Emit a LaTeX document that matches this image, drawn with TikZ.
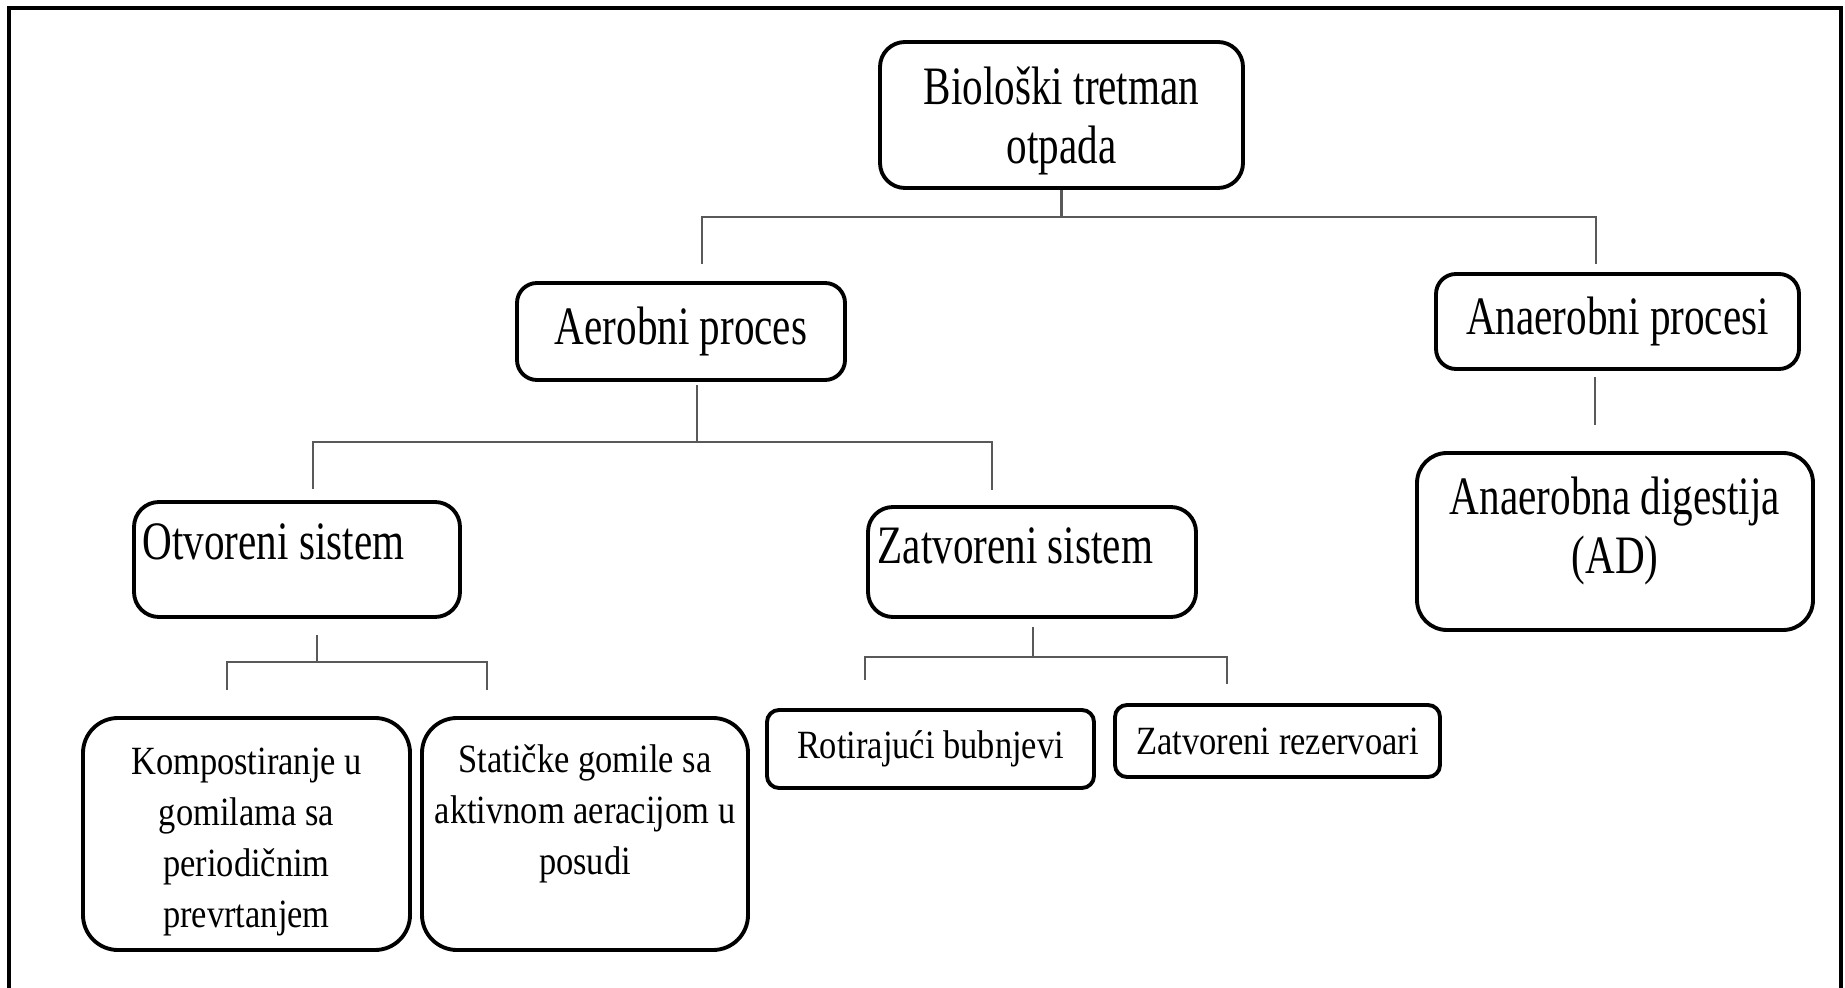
\documentclass[tikz,border=0pt]{standalone}
\usepackage{fontspec}
\setmainfont{Liberation Serif}
\newfontfamily\headfont{Liberation Serif}[FakeStretch=0.76]
\newfontfamily\leaffont{Liberation Serif}[FakeStretch=0.86]
\usetikzlibrary{positioning,calc}

\begin{document}
\begin{tikzpicture}[
    box/.style={draw=black, line width=1.1pt, rounded corners=0.25cm, fill=white, inner sep=0pt, align=center},
    headtxt/.style={font=\headfont\fontsize{15.4}{16.8}\selectfont},
    leaftxt/.style={font=\leaffont\fontsize{11.4}{14.5}\selectfont},
    link/.style={draw=black!65, line width=0.6pt}
]
    \useasboundingbox (0,0) rectangle (18.45,-9.88);

    % Outer frame
    \draw[line width=1.1pt] (0.09,-9.88) -- (0.09,-0.08) -- (18.41,-0.08) -- (18.41,-9.88);

    % Top level
    \node[box, minimum width=3.63cm, minimum height=1.46cm] (root) at (10.615,-1.15) {};
    \node[headtxt, align=center, inner sep=0pt] (roottxt) at (10.615,-1.21) {Biološki tretman\\otpada};

    % Second level
    \node[box, headtxt, minimum width=3.28cm, minimum height=0.97cm, rounded corners=0.2cm] (aer) at (6.81,-3.315) {Aerobni proces};
    \node[box, headtxt, minimum width=3.63cm, minimum height=0.95cm, rounded corners=0.2cm] (anaer) at (16.175,-3.215) {Anaerobni procesi};
    \node[box, minimum width=3.96cm, minimum height=1.77cm, rounded corners=0.3cm] (ad) at (16.15,-5.415) {};
    \node[headtxt, align=center, inner sep=0pt] (adtxt) at (16.15,-5.31) {Anaerobna digestija\\(AD)};

    % Aerobic systems
    \node[box, minimum width=3.26cm, minimum height=1.15cm] (otv) at (2.97,-5.595) {};
    \node[headtxt, anchor=base west, inner sep=0pt] (otvtxt) at (1.42,-5.60) {Otvoreni sistem};
    \node[box, minimum width=3.28cm, minimum height=1.10cm] (zat) at (10.32,-5.62) {};
    \node[headtxt, anchor=base west, inner sep=0pt] (zattxt) at (8.77,-5.63) {Zatvoreni sistem};

    % Leaves
    \node[box, minimum width=3.27cm, minimum height=2.32cm, rounded corners=0.35cm] (komp) at (2.465,-8.34) {};
    \node[leaftxt, align=center, inner sep=0pt] (komptxt) at (2.465,-8.42) {Kompostiranje u\\gomilama sa\\periodičnim\\prevrtanjem};
    \node[box, minimum width=3.26cm, minimum height=2.32cm, rounded corners=0.35cm] (stat) at (5.85,-8.34) {};
    \node[leaftxt, align=center, inner sep=0pt] (stattxt) at (5.85,-8.14) {Statičke gomile sa\\aktivnom aeracijom u\\posudi};
    \node[box, leaftxt, minimum width=3.27cm, minimum height=0.78cm, rounded corners=0.12cm] (rot) at (9.305,-7.49) {Rotirajući bubnjevi};
    \node[box, leaftxt, minimum width=3.25cm, minimum height=0.72cm, rounded corners=0.12cm] (rez) at (12.775,-7.41) {Zatvoreni rezervoari};

    % Connectors from the root
    \coordinate (rootj) at (10.615,-2.17);
    \coordinate (aerin) at (7.02,-2.64);
    \coordinate (anaerin) at (15.96,-2.64);
    \draw[link] (root.south) -- (rootj);
    \draw[link] (aerin) |- (rootj) -| (anaerin);

    % Connectors from Aerobni proces
    \coordinate (aerout) at (6.97,-3.85);
    \coordinate (aerj) at (6.97,-4.42);
    \coordinate (otvin) at (3.13,-4.89);
    \coordinate (zatin) at (9.92,-4.90);
    \draw[link] (aerout) -- (aerj);
    \draw[link] (otvin) |- (aerj) -| (zatin);

    % Connector from Anaerobni procesi
    \coordinate (anaerout) at (15.95,-3.77);
    \coordinate (adin) at (15.95,-4.25);
    \draw[link] (anaerout) -- (adin);

    % Connectors from Otvoreni sistem
    \coordinate (otvout) at (3.17,-6.35);
    \coordinate (otvj) at (3.17,-6.62);
    \coordinate (kompin) at (2.27,-6.90);
    \coordinate (statin) at (4.87,-6.90);
    \draw[link] (otvout) -- (otvj);
    \draw[link] (kompin) |- (otvj) -| (statin);

    % Connectors from Zatvoreni sistem
    \coordinate (zatout) at (10.33,-6.27);
    \coordinate (zatj) at (10.33,-6.57);
    \coordinate (rotin) at (8.65,-6.80);
    \coordinate (rezin) at (12.27,-6.84);
    \draw[link] (zatout) -- (zatj);
    \draw[link] (rotin) |- (zatj) -| (rezin);
\end{tikzpicture}
\end{document}
